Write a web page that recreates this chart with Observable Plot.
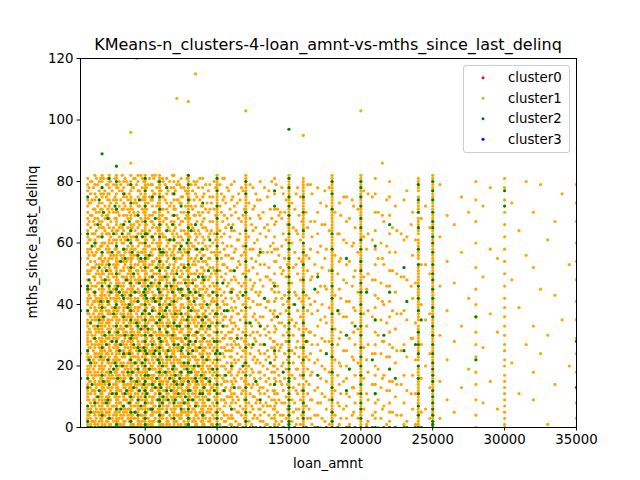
<!DOCTYPE html>
<html><head><meta charset="utf-8">
<script src="https://cdn.jsdelivr.net/npm/d3@7"></script>
<script src="https://cdn.jsdelivr.net/npm/@observablehq/plot@0.6"></script>
<style>body{margin:0;background:#fff} svg{display:block}</style>
</head><body><div id="chart"></div>
<script>
const title = "KMeans-n_clusters-4-loan_amnt-vs-mths_since_last_delinq";
const xLabel = "loan_amnt";
const yLabel = "mths_since_last_delinq";
const clusterNames = ["cluster0", "cluster1", "cluster2", "cluster3"];
const clusterColors = ["red", "orange", "green", "blue"];
const xTicks = [5000, 10000, 15000, 20000, 25000, 30000, 35000];
const yTicks = [0, 20, 40, 60, 80, 100, 120];

// [loan_amnt, "mths_since_last_delinq values"] read column by column
const cluster0Columns = [];
const cluster3Columns = [];
const cluster1Columns = [
  [500, "8 24 55 63"],
  [1000, "0 1 2 3 4 5 6 7 9 10 11 12 13 14 16 17 18 19 20 22 23 24 25 27 28 29 30 31 33 34 35 37 38 40 41 42 44 45 46 48 50 51 53 55 57 58 60 62 64 66 68 70 72 74 77 79 81"],
  [1200, "1 3 6 8 11 13 15 18 20 23 26 28 31 34 36 39 42 45 47 51 54 58 61 65 69 73 76 80"],
  [1400, "2 5 9 12 16 19 22 25 29 33 37 41 44 49 52 56 63 67 71 78"],
  [1500, "0 1 2 4 5 7 8 9 11 12 14 15 17 18 20 21 23 24 26 27 29 30 32 33 35 36 38 39 41 43 44 46 48 49 52 54 56 59 61 63 66 68 71 74 76 79 82"],
  [1600, "3 6 10 13 17 21 24 28 31 35 38 42 46 50 53 57 60 64 70 75 81"],
  [1800, "0 2 4 5 7 9 10 12 14 15 17 19 20 22 24 26 27 29 31 32 34 36 37 39 40 42 45 47 50 53 55 58 62 65 67 70 73 77 80"],
  [2000, "0 1 2 3 4 5 6 7 8 9 10 11 12 13 14 15 16 17 18 19 20 21 22 23 24 25 26 27 28 29 30 31 32 33 34 35 36 37 38 39 40 41 42 43 44 45 47 48 50 51 53 54 56 57 59 60 62 63 65 67 69 71 73 75 78 80 82"],
  [2200, "1 4 6 9 12 14 17 20 23 25 28 30 33 36 39 43 47 52 55 60 64 68 72 77"],
  [2400, "0 2 3 5 7 8 10 13 15 16 18 21 22 24 27 29 32 34 35 37 40 41 44 46 49 51 54 57 59 63 66 69 71 74 76 79 81"],
  [2500, "0 1 3 4 5 6 8 9 10 11 13 14 15 17 18 19 21 22 23 25 26 27 29 30 31 33 34 35 37 38 40 41 43 45 46 48 50 52 53 55 57 58 60 61 63 65 68 70 72 74 76 78 80 82"],
  [2800, "2 4 7 11 14 16 19 22 26 29 33 36 38 42 45 49 53 56 61 65 70 74 79"],
  [3000, "0 1 2 3 4 5 6 7 8 9 10 11 12 13 14 15 16 17 18 19 20 21 22 23 24 25 26 27 28 29 30 31 32 33 34 35 36 37 38 39 40 41 42 43 44 45 46 47 48 49 50 51 52 53 54 55 56 58 59 60 61 63 64 66 67 68 70 71 73 74 76 78 79 81 82"],
  [3200, "1 3 5 8 10 12 15 17 20 22 24 27 30 32 35 39 42 44 47 50 54 57 62 65 69 72 77 80"],
  [3500, "0 1 2 4 5 6 7 9 10 11 13 14 16 17 18 20 21 23 24 25 27 28 30 31 32 34 35 37 38 39 41 42 44 46 47 49 51 52 54 56 58 60 62 64 66 69 71 73 75 78 80"],
  [3600, "2 6 9 13 16 19 23 26 29 33 36 40 43 48 53 57 61 67 72 76 81"],
  [3800, "0 3 4 6 8 11 12 14 17 19 21 24 26 28 30 33 36 37 40 42 45 48 50 52 55 59 63 65 68 71 74 79"],
  [4000, "0 1 2 3 4 5 6 7 8 9 10 11 12 13 14 15 16 17 18 19 20 21 22 23 24 25 26 27 28 29 30 31 32 33 34 35 36 37 38 39 40 41 42 43 44 45 46 47 48 49 50 51 52 53 54 55 56 57 58 60 61 62 64 65 66 68 69 71 72 74 75 77 79 80 82"],
  [4200, "1 3 5 7 10 13 15 18 21 23 26 29 31 34 38 41 44 46 49 52 56 58 62 66 70 73 78 81"],
  [4500, "0 1 2 3 5 6 7 8 10 11 12 14 15 16 18 19 20 22 23 24 26 27 28 30 31 32 34 35 36 38 39 41 42 44 45 47 48 50 51 53 55 57 59 61 63 65 67 70 72 75 77 80 82"],
  [4800, "0 2 4 6 9 11 13 16 18 20 23 25 28 30 33 35 37 40 43 46 48 51 54 57 60 64 67 71 74 78 81"],
  [5000, "0 1 2 3 4 5 6 7 8 9 10 11 12 13 14 15 16 17 18 19 20 21 22 23 24 25 26 27 28 29 30 31 32 33 34 35 36 37 38 39 40 41 42 43 44 45 46 47 48 49 50 51 52 53 54 55 56 57 58 59 60 61 62 63 64 65 66 67 68 69 70 71 72 73 74 75 76 77 78 79 80 81 82"],
  [5200, "1 3 6 8 11 14 16 19 22 24 27 31 34 37 41 44 48 52 55 59 63 68 73 79"],
  [5500, "0 1 2 4 5 6 8 9 10 12 13 15 16 17 19 20 22 23 25 26 27 29 30 32 33 35 36 38 39 41 42 44 46 47 49 51 53 54 56 58 60 62 65 67 69 72 74 77 79 82"],
  [5600, "2 5 7 10 14 17 21 24 28 31 35 39 43 47 50 54 61 66 70 76 81"],
  [6000, "0 1 2 3 4 5 6 7 8 9 10 11 12 13 14 15 16 17 18 19 20 21 22 23 24 25 26 27 28 29 30 31 32 33 34 35 36 37 38 39 40 41 42 43 44 45 46 47 48 49 50 51 52 53 54 55 56 57 58 59 60 61 62 63 64 65 66 67 68 69 70 71 72 73 74 75 76 77 78 79 80 81 82"],
  [6250, "1 4 7 9 12 15 18 21 25 28 30 33 37 40 45 49 53 58 62 67 71 75 80"],
  [6500, "0 1 2 3 5 6 7 9 10 11 13 14 15 17 18 20 21 22 24 25 27 28 30 31 33 34 36 37 39 40 42 43 45 47 48 50 52 54 56 57 59 61 64 66 68 71 73 76 78 81"],
  [7000, "0 1 2 3 4 5 6 7 8 9 10 11 12 13 14 15 16 17 18 19 20 21 22 23 24 25 26 27 28 29 30 31 32 33 34 35 36 37 38 39 40 41 42 43 44 45 46 47 48 49 50 52 53 55 56 58 59 61 62 64 66 67 69 71 72 74 76 78 80 82"],
  [7200, "2 4 7 10 12 15 19 22 26 29 32 36 38 41 46 51 55 60 63 69 74 79"],
  [7500, "0 1 3 4 5 7 8 10 11 13 14 15 17 18 20 21 23 24 26 28 29 31 32 34 35 37 39 40 42 44 45 47 49 51 53 55 57 59 62 64 67 70 73 75 78 81"],
  [7800, "1 5 8 12 16 20 23 27 30 33 37 43 48 52 57 63 68 72 77"],
  [8000, "0 1 2 3 4 5 6 7 8 9 10 11 12 13 14 15 16 17 18 19 20 21 22 23 24 25 26 27 28 29 30 31 32 33 34 35 36 37 38 39 40 41 42 43 44 45 46 47 48 49 50 51 52 53 54 55 56 57 58 59 60 61 62 63 64 65 66 67 68 69 70 71 72 73 74 75 76 77 78 79 80 81 82"],
  [8400, "0 3 6 9 13 16 19 23 27 30 34 38 42 45 50 54 59 64 69 74 80"],
  [8500, "0 1 2 4 5 7 8 10 11 12 14 15 17 18 20 22 23 25 26 28 30 31 33 35 36 38 40 42 44 46 48 50 53 55 58 61 63 66 69 72 76 79"],
  [9000, "0 1 2 3 4 5 6 7 8 9 10 11 12 13 14 15 16 17 18 19 20 21 22 24 25 26 28 29 30 32 33 34 36 37 39 40 42 43 45 47 48 50 52 54 56 58 60 62 65 67 70 72 75 78 81"],
  [9500, "0 2 3 5 7 9 11 12 14 16 18 20 22 24 26 28 30 32 35 37 40 43 46 49 52 55 59 63 67 71 75 79"],
  [9600, "1 6 13 19 27 34 41 50 57 64 73"],
  [10000, "0 1 2 3 4 5 6 7 8 9 10 11 12 13 14 15 16 17 18 19 20 21 22 23 24 25 26 27 28 29 30 31 32 33 34 35 36 37 38 39 40 41 42 43 44 45 46 47 48 49 50 51 52 53 54 55 56 57 58 59 60 61 62 63 64 65 66 67 68 69 70 71 72 73 74 75 76 77 78 79 80 81 82"],
  [10500, "0 2 4 7 9 12 15 17 20 23 26 29 33 36 40 44 48 53 58 63 69 75 81"],
  [10800, "3 10 18 25 31 38 47 56 66 77"],
  [11000, "0 1 3 4 6 8 10 11 13 15 17 19 21 23 25 27 29 31 34 36 39 42 45 48 51 55 59 64 69 74 79"],
  [11500, "1 5 9 13 18 22 27 32 37 42 47 54 61 68 76"],
  [12000, "0 1 2 3 4 5 6 7 8 9 10 11 12 13 14 15 16 17 18 19 20 21 22 23 24 25 26 27 28 29 30 31 32 33 34 35 36 37 38 39 40 41 42 43 44 45 46 47 48 49 50 51 52 53 54 55 56 57 58 59 60 61 62 63 64 65 66 67 68 69 70 71 72 73 74 75 76 77 78 79 80 81 82"],
  [12500, "0 3 6 10 14 18 22 27 31 36 41 46 52 58 64 71 78"],
  [13000, "0 2 4 6 8 11 13 16 18 21 24 27 30 33 36 40 44 48 53 58 63 68 74 80"],
  [13500, "1 7 12 19 25 33 41 49 57 66 75"],
  [14000, "0 1 3 4 6 7 9 11 12 14 16 18 20 22 24 26 28 31 33 36 38 41 44 47 50 54 58 62 66 71 76 81"],
  [14400, "4 15 26 37 52 70"],
  [14500, "2 8 14 20 27 34 42 50 59 68 78"],
  [15000, "0 1 2 3 4 5 6 7 8 9 10 11 12 13 14 15 16 17 18 19 20 21 22 23 24 25 26 27 28 29 30 31 32 33 34 35 36 37 38 39 40 41 42 43 44 45 46 47 48 49 50 51 52 53 54 55 56 57 58 59 60 61 62 63 64 65 66 67 68 69 70 71 72 73 74 75 76 77 78 79 80 81 82"],
  [15500, "1 6 12 19 26 34 43 53 64 76"],
  [16000, "0 1 2 3 4 5 6 7 8 9 10 11 12 13 14 16 17 18 19 20 21 22 23 24 25 26 27 28 29 30 31 32 33 34 35 36 37 38 40 41 42 43 44 45 46 47 48 49 50 51 52 53 54 55 56 57 58 59 60 62 63 64 65 66 67 68 69 70 71 72 73 74 75 76 77 78 79 80 81"],
  [16500, "3 9 17 24 31 40 48 58 67 79"],
  [17000, "0 4 8 13 17 22 27 33 38 44 50 57 63 70 78"],
  [17500, "2 10 19 28 36 46 55 66 77"],
  [18000, "0 1 2 3 4 5 6 7 8 9 10 11 12 13 14 15 16 17 18 19 20 21 22 23 24 25 26 27 28 29 30 31 32 33 34 35 36 37 38 39 40 41 42 43 44 45 46 47 48 49 50 51 52 53 54 55 56 57 58 59 60 61 62 63 64 65 66 67 68 69 70 71 72 73 74 75 76 77 78 79 80 81 82"],
  [18500, "1 7 14 21 29 37 45 54 63 73"],
  [19000, "0 3 7 11 16 20 25 30 36 41 47 53 60 67 75"],
  [19500, "5 13 22 31 39 49 60 72"],
  [20000, "0 1 2 3 4 5 6 7 8 9 10 11 12 13 14 15 16 17 18 19 20 21 22 23 24 25 26 27 28 29 30 31 32 33 34 35 36 37 38 39 40 41 42 43 44 45 46 47 48 49 50 51 52 53 54 55 56 57 58 59 60 61 62 63 64 65 66 67 68 69 70 71 72 73 74 75 76 77 78 79 80 81 82"],
  [20500, "2 9 18 27 38 50 63 76"],
  [21000, "0 3 5 8 11 14 17 20 24 27 31 35 39 43 48 53 58 64 70 76 81"],
  [21500, "6 16 28 41 55 69"],
  [22000, "0 2 5 8 12 15 19 23 27 31 36 41 46 51 57 63 69 75 80"],
  [22500, "4 14 25 37 50 64"],
  [23000, "1 8 17 27 38 49 61 74"],
  [23500, "11 29 46 66"],
  [24000, "0 1 2 3 4 5 6 7 8 9 10 11 12 13 14 15 16 17 18 19 20 22 23 24 25 26 27 28 29 30 31 32 33 35 36 37 38 39 40 41 42 43 44 45 47 48 49 50 51 52 53 55 56 57 58 59 60 61 63 64 65 66 67 68 70 71 72 73 74 75 77 78 79 80 81"],
  [24500, "6 20 35 53 72"],
  [25000, "0 1 2 3 4 5 6 7 8 9 10 11 12 13 14 15 16 17 18 19 20 21 22 23 24 25 26 27 28 29 30 31 32 33 34 35 36 37 38 39 40 41 42 43 44 45 46 47 48 49 50 51 52 53 54 55 56 57 58 59 60 61 62 63 64 65 66 67 68 69 70 71 72 73 74 75 76 77 78 79 80 81 82"],
  [25500, "3 15 30 46 62 79"],
  [26000, "9 22 38 54 69"],
  [26500, "5 28 47 66"],
  [27000, "13 33 57 75"],
  [27500, "19 42 70"],
  [28000, "0 4 9 14 18 23 27 31 36 40 45 52 60 67 74 80"],
  [28500, "8 26 49 72"],
  [29000, "15 37 58 78"],
  [29500, "6 31 55"],
  [30000, "0 1 3 5 7 9 11 13 15 17 20 22 25 27 30 33 36 39 42 46 50 54 58 62 66 70 74 78 81"],
  [30500, "21 48 73"],
  [31000, "11 39 64"],
  [31500, "27 56 80"],
  [32000, "9 18 33 52 70"],
  [32500, "24 45 79"],
  [33000, "1 30 61"],
  [33500, "14 43 67"],
  [34000, "35 76"],
  [34500, "20 53"],
  [35000, "0 3 8 13 18 24 29 35 41 48 54 60 67 73 79"]
];
// in-between loan amounts of the crowded left part
const cluster1FillColumns = [
  [1100, "0 4 9 15 19 26 32 37 43 50 56 61 67 73 78"],
  [1300, "2 7 12 17 21 27 30 35 40 46 52 57 63 69 74 80"],
  [1700, "1 5 8 14 18 23 27 32 36 41 47 51 58 62 68 72 79"],
  [1900, "3 6 11 16 20 25 28 33 38 43 49 55 59 66 71 76 81"],
  [2100, "0 4 8 13 19 22 26 31 35 41 45 50 54 60 65 70 76 81"],
  [2300, "2 5 10 15 18 24 29 34 38 42 48 53 58 63 69 75 79"],
  [2600, "1 6 9 12 16 20 25 28 32 37 42 47 51 56 62 67 73 80"],
  [2700, "3 7 13 17 21 24 30 35 39 44 50 55 60 64 71 77"],
  [2900, "0 5 10 14 18 23 27 31 36 41 46 52 58 63 68 75 81"],
  [3100, "2 6 9 13 19 22 26 29 34 38 43 48 53 57 64 70 78"],
  [3300, "1 4 8 12 16 21 25 30 33 37 41 46 51 56 61 66 74 79"],
  [3400, "3 7 11 15 18 23 28 32 36 40 45 49 55 60 65 71 77 82"],
  [3700, "0 5 9 14 20 24 27 31 35 39 44 49 54 58 62 69 75 80"],
  [3900, "2 6 10 13 17 22 25 29 34 38 43 47 51 57 63 70 76"],
  [4100, "1 4 9 12 16 20 24 28 32 36 40 45 50 55 59 65 71 78"],
  [4300, "3 7 11 14 19 23 26 30 35 39 42 48 53 58 64 69 74 81"],
  [4400, "0 5 8 13 17 21 25 29 33 37 41 47 51 56 61 67 73 79"],
  [4600, "2 6 9 15 18 22 27 31 34 39 44 49 54 60 66 72 77"],
  [4700, "1 4 10 14 17 21 26 30 36 40 43 48 52 57 63 68 76 82"],
  [4900, "3 7 12 16 19 24 28 32 38 42 47 53 58 62 70 75 80"],
  [5100, "0 5 9 13 18 22 26 29 33 39 44 50 56 61 66 71 78"],
  [5300, "2 6 10 14 17 21 25 30 35 40 45 49 53 59 64 69 75 81"],
  [5400, "1 4 8 12 16 20 24 28 32 36 42 46 51 57 62 67 74 79"],
  [5700, "3 7 11 15 19 23 27 31 34 38 43 48 52 58 63 70 76 82"],
  [5800, "0 5 9 13 18 22 26 30 36 41 46 50 55 60 65 72 78"],
  [5900, "2 6 12 16 20 25 29 33 37 42 47 53 59 64 68 73 80"],
  [6100, "1 4 8 11 15 19 23 27 31 35 39 44 49 54 60 66 71 77"],
  [6200, "3 6 10 14 17 22 26 30 34 38 43 48 52 56 63 69 75 81"],
  [6400, "0 5 9 12 16 20 24 29 32 36 41 46 51 57 62 68 74 79"],
  [6600, "2 7 11 15 19 23 27 31 35 40 44 49 55 60 65 70 77"],
  [6700, "1 4 8 13 18 22 26 30 34 38 42 47 53 58 64 72 80"],
  [6800, "3 6 10 14 17 21 25 29 33 37 41 45 50 56 61 67 73 78"],
  [6900, "0 5 9 12 16 20 24 28 32 36 40 46 51 57 63 69 76 82"],
  [7100, "2 6 11 15 19 23 27 30 35 39 43 48 54 59 65 71 77"],
  [7300, "1 4 8 13 17 21 25 29 33 37 42 47 52 57 62 68 74 80"],
  [7400, "3 7 10 14 18 22 26 31 34 38 44 49 55 60 66 73 79"],
  [7600, "0 5 9 12 16 20 24 28 32 36 40 45 50 56 61 67 75"],
  [7700, "2 6 11 15 19 23 27 30 35 39 43 48 53 58 64 70 78"],
  [7900, "1 4 8 13 17 21 25 29 33 37 42 46 51 57 63 69 76 81"],
  [8100, "3 7 10 14 18 22 26 31 34 38 41 47 52 58 62 68 74"],
  [8200, "0 5 9 12 16 20 24 28 32 36 40 44 50 55 60 66 72 79"],
  [8300, "2 6 11 15 19 23 27 30 35 39 43 48 53 59 65 71 77"],
  [8600, "1 4 8 13 17 21 25 29 33 37 42 46 51 56 62 67 75 80"],
  [8700, "3 7 10 14 18 22 26 31 34 38 44 49 54 60 64 70 78"],
  [8800, "0 5 9 12 16 20 24 28 32 36 40 45 50 57 63 69 74 81"],
  [8900, "2 6 11 15 19 23 27 30 35 39 43 47 52 58 66 72"],
  [9100, "1 4 8 13 17 21 25 29 33 37 41 46 51 56 61 68 76"],
  [9200, "3 7 10 14 18 22 26 31 34 38 44 49 54 59 65 71 79"],
  [9300, "0 5 9 12 16 20 24 28 32 36 40 45 53 58 64 73"],
  [9400, "2 6 11 15 19 23 27 30 35 39 43 48 55 62 70 77"],
  [9700, "1 4 8 13 17 21 25 29 34 38 42 47 52 60 67 75"],
  [9800, "3 7 10 14 18 22 26 31 36 41 46 51 57 63 71 80"],
  [9900, "0 5 9 12 16 20 24 28 33 37 44 50 56 61 69 78"]
];
// in-between loan amounts of the middle part
const cluster1MidColumns = [
  [10200, "1 6 11 17 22 28 34 39 45 51 57 64 72 79"],
  [10300, "3 9 14 20 26 31 37 43 49 55 62 70 76"],
  [10400, "0 5 12 16 24 29 35 41 47 53 60 67 74 81"],
  [10600, "2 8 13 19 25 30 36 42 50 56 65 73"],
  [10700, "4 10 15 21 27 33 40 46 52 59 68 78"],
  [10900, "1 7 12 18 23 29 35 44 51 62 71"],
  [11100, "3 9 14 20 26 32 38 45 55 66 75"],
  [11200, "0 6 11 16 22 28 34 41 49 57 64 72 80"],
  [11300, "2 8 15 21 27 33 39 48 58 70"],
  [11400, "5 10 17 24 30 37 43 52 61 73"],
  [11600, "1 7 13 19 26 35 44 53 63 74"],
  [11700, "4 11 16 23 29 38 46 56 67 78"],
  [11800, "0 6 12 18 25 31 40 50 59 69 77"],
  [11900, "3 9 15 21 28 36 47 57 71"],
  [12200, "2 8 14 20 27 34 42 51 62 73"],
  [12300, "5 11 17 24 30 39 48 58 68 79"],
  [12400, "1 7 13 19 26 33 45 55 66"],
  [12600, "4 10 16 23 29 37 47 60 72"],
  [12700, "0 8 15 21 28 35 44 54 65 76"],
  [12800, "3 9 14 22 31 40 50 61 74"],
  [12900, "6 12 18 25 34 43 56 69"],
  [13200, "2 7 13 20 27 36 46 57 70"],
  [13300, "5 11 17 24 32 42 53 65 78"],
  [13400, "1 8 15 22 30 39 49 62"],
  [13600, "4 10 16 23 31 41 52 64 77"],
  [13700, "0 7 14 21 29 38 48 59 71"],
  [13800, "3 9 18 26 35 45 57 68 80"],
  [13900, "6 12 20 28 37 47 60"],
  [14100, "2 8 15 23 32 42 54 67 79"],
  [14200, "5 11 19 27 36 46 58 71"],
  [14300, "1 9 17 25 34 44 56 69"],
  [14600, "4 12 21 30 40 51 63 76"],
  [14700, "0 8 16 24 33 43 55 70"],
  [14800, "3 10 19 28 38 49 61 74"],
  [14900, "6 14 22 31 41 53 66"],
  [15200, "2 9 17 25 35 47 60 73"],
  [15300, "5 13 21 30 40 52 65"],
  [15400, "0 8 16 24 33 44 57 71"],
  [15600, "3 11 19 28 38 50 63 78"],
  [15700, "6 14 23 32 42 55 69"],
  [15800, "1 9 17 26 36 48 61 75"],
  [15900, "4 12 21 30 41 54 67"],
  [16200, "0 7 15 23 32 43 56 70"],
  [16300, "3 11 19 28 38 51 65 79"],
  [16400, "6 14 22 31 42 55"],
  [16600, "1 9 18 27 37 49 62 76"],
  [16800, "4 12 21 30 41 53 67"],
  [17200, "0 8 16 25 35 46 59 73"],
  [17300, "3 11 20 29 40 52 66"],
  [17600, "6 15 24 34 45 58 72"],
  [17800, "1 9 18 28 39 51 64 78"],
  [18200, "4 12 22 32 43 56 70"],
  [18400, "0 8 17 27 38 50 63"],
  [18600, "3 11 20 31 42 55 69"],
  [18800, "6 15 25 36 48 61 75"],
  [19200, "1 10 19 29 41 54 68"],
  [19400, "4 13 23 34 46 59 74"],
  [19600, "0 8 17 27 38 51 65"],
  [19800, "3 11 21 32 44 57 71"],
  [20200, "6 16 26 37 49 62 77"],
  [20400, "1 11 22 33 45 58"],
  [20800, "4 14 24 36 48 61 75"],
  [21200, "0 9 19 30 42 55 70"],
  [21400, "3 13 24 35 47 60"],
  [21600, "7 17 28 40 53 67"],
  [21800, "1 12 23 34 46 59 74"],
  [22200, "5 15 26 38 51 65"],
  [22400, "0 10 21 32 44 57 72"],
  [22800, "4 14 25 37 49 63"],
  [23200, "2 12 23 35 48 62 77"],
  [23600, "6 17 29 42 56 70"],
  [23800, "1 11 22 34 47 61"],
  [24200, "5 16 27 40 53 68"],
  [24800, "3 13 24 37 50 65"]
];
const cluster2Columns = [
  [500, "16 38 46"],
  [1000, "0 2 7 13 16 25 38 45 46 63 75"],
  [1200, "0 5 21 34"],
  [1500, "0 8 29 44 60"],
  [1800, "0 12 35 52 74"],
  [2000, "0 4 17 26 39 46 57 62 78"],
  [2200, "0 30 48"],
  [2400, "0 9 22 41 68"],
  [2500, "0 3 14 31 46 53 81"],
  [2800, "0 19 37 63"],
  [3000, "0 1 6 11 20 28 33 40 45 50 59 71 80"],
  [3200, "0 25 44"],
  [3500, "0 7 15 24 36 42 58 66 76"],
  [3600, "0 11 30 55"],
  [3800, "0 18 39 61"],
  [4000, "0 2 5 10 16 22 29 35 38 43 47 52 60 64 73 79"],
  [4200, "0 13 27 50"],
  [4500, "0 4 9 19 26 33 41 56 69"],
  [4800, "0 21 37 62"],
  [5000, "0 1 3 5 8 10 12 15 17 20 22 25 28 30 33 35 38 40 43 45 48 52 55 60 63 67 72 77 81"],
  [5200, "0 17 32 46"],
  [5500, "0 6 14 27 38 49 62 75"],
  [5600, "0 24 42"],
  [6000, "0 2 4 7 9 11 14 18 21 24 26 29 32 35 37 40 44 47 51 54 58 62 66 71 75 80"],
  [6250, "0 10 36 57"],
  [6500, "0 5 12 23 31 39 46 64 78"],
  [7000, "0 3 8 15 20 27 34 41 48 55 61 69 76"],
  [7200, "0 14 33 50"],
  [7500, "0 6 18 25 37 45 59 72"],
  [7800, "0 10 29 47"],
  [8000, "0 1 3 6 9 12 15 18 21 24 27 30 33 36 39 42 45 49 53 57 61 65 70 74 79 82"],
  [8400, "0 20 41"],
  [8500, "0 7 16 28 44 66"],
  [9000, "0 4 11 23 35 49 58 73"],
  [9500, "0 15 33 61"],
  [10000, "0 1 3 5 8 11 14 17 19 22 25 28 31 34 37 40 43 47 51 55 59 63 68 72 77 81"],
  [10500, "0 12 38"],
  [11000, "0 6 20 44 65"],
  [12000, "0 2 5 9 13 17 21 26 30 34 39 44 49 54 59 64 70 76 80"],
  [12500, "0 27"],
  [13000, "0 9 33 57"],
  [14000, "0 14 25 46 72 77"],
  [15000, "0 1 2 4 6 7 9 11 13 15 16 19 21 23 25 28 30 32 34 37 39 42 44 47 49 52 55 58 60 63 66 69 72 75 78 81"],
  [16000, "0 3 5 8 12 17 22 26 30 34 39 44 48 53 57 60 64 70 75"],
  [17000, "0 17 49"],
  [18000, "0 2 5 9 13 18 23 27 32 37 42 46 51 58 63 71 76 80"],
  [19000, "0 12 30 55"],
  [20000, "0 3 6 8 11 14 17 20 23 26 30 33 37 40 44 47 51 54 58 61 65 68 72 75 78 80"],
  [21000, "0 11 35 59"],
  [22000, "0 19 44 66"],
  [23000, "0 25 52"],
  [24000, "0 4 7 11 16 20 24 27 31 38 42 46 53 58 65 70 74 79"],
  [25000, "0 1 2 4 6 8 10 12 15 17 19 21 24 27 30 33 36 39 42 45 48 50 53 57 60 62 65 67 70 74 77 80"],
  [28000, "22 36"],
  [30000, "72 77"],
  [35000, "13 28"]
];
const cluster2FillColumns = [
  [1100, "0 22 48"], [1300, "0 14 59"], [1700, "0 10 33 66"], [1900, "0 23 41"],
  [2100, "0 15 36 70"], [2300, "0 8 27 51"], [2600, "0 18 44"], [2700, "0 11 28 57"],
  [2900, "0 21 39 72"], [3100, "0 16 31 46"], [3300, "0 6 27 54"], [3400, "0 20 43 63"],
  [3700, "0 12 33 48"], [3900, "0 8 24 40 67"], [4100, "0 18 30 57"], [4300, "0 5 21 44"],
  [4400, "0 15 34 62"], [4600, "0 12 25 47 74"], [4700, "0 7 32 55"], [4900, "0 14 26 44"],
  [5100, "0 11 24 42 63"], [5300, "0 19 37 56"], [5400, "0 6 30 47"], [5700, "0 13 25 41 68"],
  [5800, "0 16 34 52"], [5900, "0 9 22 45"], [6100, "0 13 28 42 57"], [6200, "0 8 20 36"],
  [6400, "0 18 38 49"], [6600, "0 9 25 33 52"], [6700, "0 16 40 61"], [6800, "0 12 23 46"],
  [6900, "0 19 30 44 66"], [7100, "0 9 17 37"], [7300, "0 11 27 45"], [7400, "0 16 33 58"],
  [7600, "0 14 26 43"], [7700, "0 8 21 52"], [7900, "0 19 35 60"], [8100, "0 12 28 44"],
  [8200, "0 18 38 64"], [8300, "0 9 25 47"], [8600, "0 15 31 58"], [8700, "0 20 36 49"],
  [8800, "0 11 26 43"], [8900, "0 17 33 55"], [9100, "0 13 29 48"], [9200, "0 16 36"],
  [9300, "0 22 40"], [9400, "0 9 33 51"], [9700, "0 19 44"], [9800, "0 12 28"], [9900, "0 24 37"],
  [10200, "0 24"], [10400, "0 33 47"], [10600, "0 17"], [10700, "0 38"], [11200, "0 13 51"],
  [11400, "0 29"], [11800, "0 20 43"], [12300, "0 34"], [12700, "0 15"], [13300, "0 27 42"],
  [13700, "0 21"], [14200, "0 36"], [14600, "0 18"], [15400, "0 40"], [16200, "0 28"],
  [16800, "0 45"], [17600, "0 24"], [18400, "0 38"], [19200, "0 19"], [19600, "0 33"],
  [20400, "0 44"], [20800, "0 22"], [21600, "0 30"], [22400, "0 16"], [23200, "0 41"],
  [23800, "0 27"], [24200, "0 35"]
];
// isolated points above the main band: [loan_amnt, mths_since_last_delinq]
const cluster1Outliers = [[4400, 120], [8500, 115], [7200, 107], [8000, 106], [12000, 103], [20000, 103], [4000, 96], [16000, 95], [4000, 86], [21500, 86]];
const cluster2Outliers = [[15000, 97], [2000, 89], [3000, 85]];

function expand(cols, name) {
  return cols.flatMap(([loan, s]) => s.trim().split(/\s+/).map(v => ({loan_amnt: loan, mths: +v, cluster: name})));
}
function pairs(list, name) { return list.map(([loan, m]) => ({loan_amnt: loan, mths: m, cluster: name})); }

const points = [
  ...expand(cluster0Columns, "cluster0"),
  ...expand(cluster1Columns, "cluster1"), ...expand(cluster1FillColumns, "cluster1"),
  ...expand(cluster1MidColumns, "cluster1"), ...pairs(cluster1Outliers, "cluster1"),
  ...expand(cluster2Columns, "cluster2"), ...expand(cluster2FillColumns, "cluster2"),
  ...pairs(cluster2Outliers, "cluster2"),
  ...expand(cluster3Columns, "cluster3")
];

const plot = Plot.plot({
  width: 640, height: 480,
  marginLeft: 80, marginRight: 64, marginTop: 58, marginBottom: 53,
  style: {fontFamily: "DejaVu Sans, sans-serif", fontSize: "13.3px", background: "#fff", color: "#000", overflow: "visible"},
  x: {domain: [500, 35000], ticks: xTicks, tickFormat: d3.format("d"), tickSize: 3.5, tickPadding: 3.5, label: null},
  y: {domain: [0, 120], ticks: yTicks, tickSize: 3.5, tickPadding: 3.5, label: null},
  color: {domain: clusterNames, range: clusterColors},
  marks: [
    Plot.dot(points, {x: "loan_amnt", y: "mths", fill: "cluster", r: 1.6, clip: true}),
    Plot.frame({stroke: "#000", strokeWidth: 1})
  ]
});

const svg = d3.select(plot);
svg.append("text").attr("x", 328).attr("y", 50).attr("text-anchor", "middle")
  .attr("font-size", "16px").attr("fill", "#000").text(title);
svg.append("text").attr("x", 328).attr("y", 468).attr("text-anchor", "middle")
  .attr("font-size", "13.3px").attr("fill", "#000").text(xLabel);
svg.append("text").attr("transform", "translate(37,242) rotate(-90)").attr("text-anchor", "middle")
  .attr("font-size", "13.3px").attr("fill", "#000").text(yLabel);

const lg = svg.append("g");
lg.append("rect").attr("x", 463.5).attr("y", 65.5).attr("width", 106).attr("height", 87)
  .attr("rx", 2.5).attr("fill", "#fff").attr("fill-opacity", 0.8).attr("stroke", "#ccc");
clusterNames.forEach((name, i) => {
  const cy = 77.7 + i * 20.5;
  lg.append("circle").attr("cx", 483).attr("cy", cy).attr("r", 1.5).attr("fill", clusterColors[i]);
  lg.append("text").attr("x", 508).attr("y", cy).attr("dy", "0.35em").attr("text-anchor", "start")
    .attr("font-size", "13.3px").attr("fill", "#000").text(name);
});

document.getElementById("chart").appendChild(plot);
</script>
</body></html>
